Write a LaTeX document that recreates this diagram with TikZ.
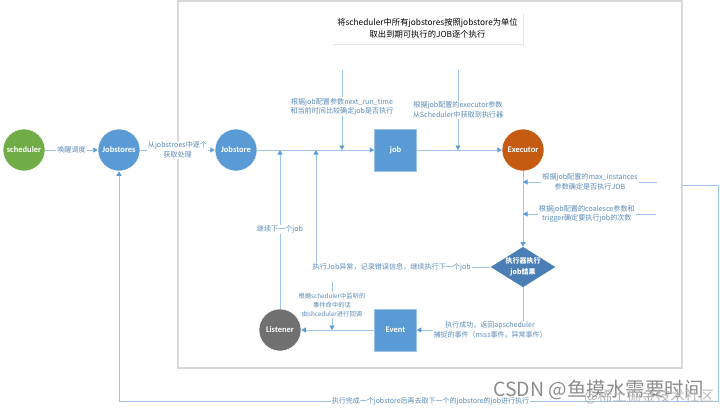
\documentclass[tikz,border=0pt]{standalone}
\usepackage{fontspec}
\setmainfont{Noto Sans CJK SC}
\newfontfamily\nodefont{Carlito}
\usepackage{xcolor}
\usetikzlibrary{calc,arrows.meta,shapes.geometric,shadows}
\definecolor{lineblue}{HTML}{9DC3E6}
\definecolor{tipblue}{HTML}{5B9BD5}
\definecolor{textblue}{HTML}{5A8AB8}
\tikzset{
  round/.style={circle,draw=white,line width=.5pt,minimum size=42pt,inner sep=0pt,text=white,font=\nodefont\bfseries\fontsize{8.5}{10}\selectfont},
  boxed/.style={rectangle,draw=lineblue,fill=tipblue,line width=.5pt,minimum size=42pt,inner sep=0pt,text=white,font=\nodefont\bfseries\fontsize{8.5}{10}\selectfont},
  lab/.style={fill=white,inner sep=1pt,text=textblue,align=center,font=\fontsize{7.1}{9.6}\selectfont},
  flow/.style={draw=lineblue,line width=.8pt,-{Triangle[length=4.5pt,width=5pt,color=tipblue]}},
  plain/.style={draw=lineblue,line width=.8pt}
}
\begin{document}
\begin{tikzpicture}[x=1pt,y=-1pt]
\useasboundingbox (0,0) rectangle (720,410);
\node[draw=black!15,line width=1.2pt,minimum width=504pt,minimum height=367pt,inner sep=0pt] (frame) at (430,184.5){};
\node[fill=white,drop shadow={shadow xshift=.6pt,shadow yshift=-.8pt,opacity=.2},minimum width=191pt,minimum height=31pt,inner sep=0pt,align=center,font=\fontsize{8.3}{12.5}\selectfont] (title) at (427.5,28.5){将scheduler中所有jobstores按照jobstore为单位\\取出到期可执行的JOB逐个执行};

\node[round,fill={rgb,255:red,112;green,173;blue,71}] (scheduler) at (24,150){scheduler};
\node[round,fill=tipblue] (jobstores) at (119,150){Jobstores};
\node[round,fill=tipblue] (jobstore) at (236,150){Jobstore};
\node[boxed] (job) at (395.5,150){job};
\node[round,fill={rgb,255:red,197;green,90;blue,17}] (executor) at (523,150){Executor};
\node[diamond,aspect=1.6,fill={rgb,255:red,74;green,126;blue,181},minimum width=64pt,minimum height=40pt,inner sep=0pt,text=white,align=center,font=\bfseries\fontsize{7}{11}\selectfont] (result) at (523,267){执行器执行\\job结果};
\node[boxed] (event) at (395.5,330){Event};
\node[round,fill={rgb,255:red,112;green,112;blue,112}] (listener) at (280,330){Listener};

\coordinate (timetop) at (342,70);
\coordinate (timejoin) at (342,150);
\coordinate (exectop) at (458,70);
\coordinate (execjoin) at (458,150);
\coordinate (nextjoin) at (280,150);
\coordinate (errjoin) at (316,150);
\coordinate (errturn) at (316,267);
\coordinate (maxright) at (657,182);
\coordinate (maxjoin) at (523,182);
\coordinate (coalright) at (656,214);
\coordinate (coaljoin) at (523,214);
\coordinate (okturn) at (523,330);
\coordinate (calltop) at (332,282);
\coordinate (calljoin) at (332,330);
\coordinate (loopstart) at (682,185);
\coordinate (loopa) at (718,185);
\coordinate (loopb) at (718,401);
\coordinate (loopc) at (119,401);

%main line
\draw[flow] (scheduler) -- node[lab]{唤醒调度} (jobstores);
\draw[flow] (jobstores) -- node[lab]{从jobstroes中逐个\\获取处理} (jobstore);
\draw[flow] (jobstore) -- (job);
\draw[flow] (job) -- (executor);
\draw[flow] (executor) -- (result);
%from above
\draw[flow] (timetop) -- node[lab,pos=.46]{根据job配置参数next\_run\_time\\和当前时间比较确定job是否执行} (timejoin);
\draw[flow] (exectop) -- node[lab,pos=.5]{根据job配置的executor参数\\从Scheduler中获取到执行器} (execjoin);
%from the right
\draw[flow] (maxright) -- node[lab,pos=.5]{根据job配置的max\_instances\\参数确定是否执行JOB} (maxjoin);
\draw[flow] (coalright) -- node[lab,pos=.52]{根据job配置的coalesce参数和\\trigger确定要执行job的次数} (coaljoin);
%back to the line
\draw[flow] (listener) -- node[lab,pos=.5]{继续下一个job} (nextjoin);
\draw[plain] (result) -- node[lab,pos=.566]{执行Job异常^^^^ff0c记录错误信息^^^^ff0c继续执行下一个job} (errturn);
\draw[flow] (errturn) -- (errjoin);
\draw[flow] (result) -- (okturn) -- node[lab,pos=.31,font=\fontsize{7}{9.6}\selectfont]{执行成功^^^^ff0c返回apscheduler\\捕捉的事件^^^^ff08miss事件^^^^ff0c异常事件^^^^ff09} (event);
\draw[flow] (event) -- (listener);
\draw[flow] (calltop) -- node[lab,pos=.48,font=\fontsize{6.3}{9.4}\selectfont]{根据scheduler中监听的\\事件命中的话\\由shceduler进行回调} (calljoin);
%round to the next jobstore
\draw[flow] (loopstart) -- (loopa) -- (loopb) -- node[lab,pos=.48,font=\fontsize{7}{8}\selectfont]{执行完成一个jobstore后再去取下一个的jobstore的job进行执行} (loopc) -- (jobstores);

\node[text=black!45,font=\fontsize{19.5}{20}\selectfont,anchor=west,inner sep=0pt] (mark) at (493,390){CSDN @鱼摸水需要时间};
\node[text=black!28,font=\fontsize{14.5}{16}\selectfont,anchor=east,inner sep=0pt] (markb) at (714,397){@稀土掘金技术社区};
\end{tikzpicture}
\end{document}
